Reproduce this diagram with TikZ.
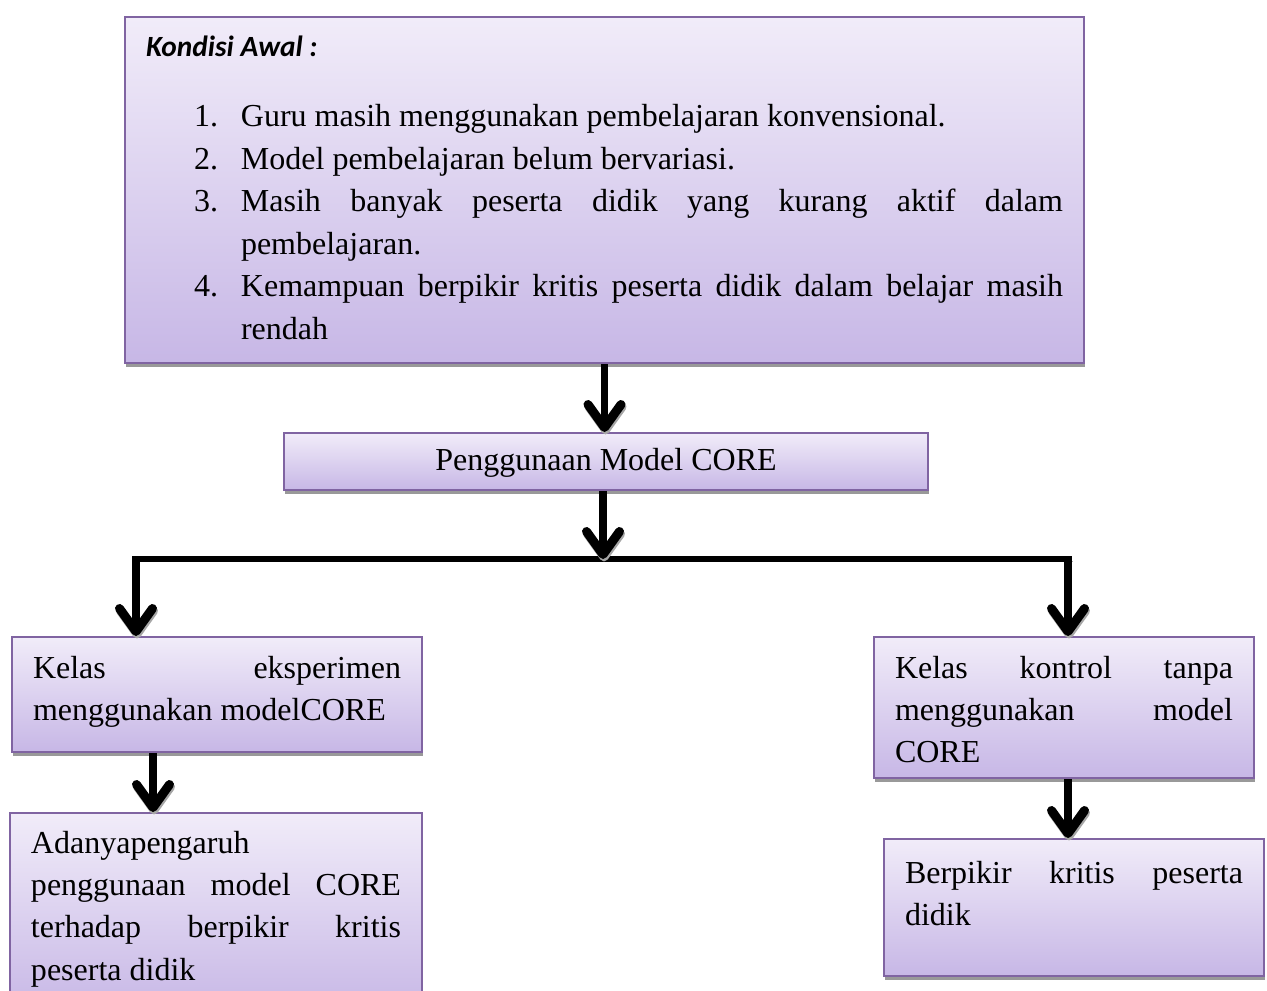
\documentclass[tikz,border=0pt]{standalone}
\usepackage{fontspec}
\setmainfont{Liberation Serif}
\newfontfamily\kondfont{Carlito}
\usetikzlibrary{arrows.meta,shadows,positioning}
\definecolor{boxtop}{RGB}{241,236,249}
\definecolor{boxbot}{RGB}{199,183,230}
\definecolor{boxline}{RGB}{128,100,162}
\newcommand{\boxbody}[4]{\parbox[t][#2][t]{#1}{\fontsize{16}{21.2}\selectfont\rule{0pt}{#3}#4}}
\newcommand{\listline}[2]{\hspace*{24pt}\makebox[23.5pt][l]{#1}#2}
\tikzset{
  box/.style={draw=boxline,line width=1pt,top color=boxtop,bottom color=boxbot,
              drop shadow={shadow xshift=0.5pt,shadow yshift=-2pt,fill=black!40,opacity=1},
              inner xsep=10.5pt,inner ysep=0pt,anchor=north west},
  flow/.style={-{Straight Barb[length=11.5pt,width=16.5pt,round,line width=4.5pt]},line width=3.8pt,
               preaction={draw=black!35,transform canvas={shift={(0.5pt,-1.2pt)}}}},
  wire/.style={line width=3pt,preaction={draw=black!35,transform canvas={shift={(0.5pt,-1.2pt)}}}},
}
\begin{document}
\begin{tikzpicture}[x=0.5pt,y=-0.5pt]
  \useasboundingbox (0,0) rectangle (1267,990);

  \node[box] (awal) at (124,16)
    {\boxbody{458.5pt}{173pt}{20pt}{%
      {\kondfont\fontsize{14.67}{17}\selectfont\bfseries\itshape Kondisi Awal :}\\[13.8pt]
      \listline{1.}{Guru masih menggunakan pembelajaran konvensional.}\\
      \listline{2.}{Model pembelajaran belum bervariasi.}\\
      \listline{3.}{Masih\hfill banyak\hfill peserta\hfill didik\hfill yang\hfill kurang\hfill aktif\hfill dalam}\\
      \hspace*{47.5pt}pembelajaran.\\
      \listline{4.}{Kemampuan\hfill berpikir\hfill kritis\hfill peserta\hfill didik\hfill dalam\hfill belajar\hfill masih}\\
      \hspace*{47.5pt}rendah}};

  \node[box,inner sep=0pt,minimum width=322pt,minimum height=28.5pt,
        text height=12pt,text depth=3.5pt,
        font={\fontsize{16}{21.2}\selectfont}] (core) at (283,432)
    {Penggunaan Model CORE};

  \node[box] (eksp) at (11,636)
    {\boxbody{184pt}{57.5pt}{20.5pt}{Kelas\hfill eksperimen\\menggunakan modelCORE}};
  \node[box] (hasil) at (9,812)
    {\boxbody{185pt}{100pt}{20pt}{Adanyapengaruh\\
      penggunaan\hfill model\hfill CORE\\
      terhadap\hfill berpikir\hfill kritis\\
      peserta didik}};

  \node[box] (kontrol) at (873,636)
    {\boxbody{169pt}{70.5pt}{20.5pt}{Kelas\hfill kontrol\hfill tanpa\\menggunakan\hfill model\\CORE}};
  \node[box] (kritis) at (883,838)
    {\boxbody{169pt}{68.5pt}{22pt}{Berpikir\hfill kritis\hfill peserta\\didik}};

  % branching line
  \coordinate (split) at (603,559);
  \coordinate (lft) at (136,559);
  \coordinate (rgt) at (1068,559);
  \draw[wire] ([xshift=-1.9pt]lft) -- ([xshift=1.9pt]rgt);

  \draw[flow] (awal.south) -- (awal.south |- core.north);
  \draw[flow] (split |- core.south) -- (split);
  \draw[flow] (lft) -- (lft |- eksp.north);
  \draw[flow] (rgt) -- (rgt |- kontrol.north);
  \draw[flow] (eksp.south -| 153,0) -- (hasil.north -| 153,0);
  \draw[flow] (kontrol.south -| rgt) -- (kritis.north -| rgt);
\end{tikzpicture}
\end{document}
